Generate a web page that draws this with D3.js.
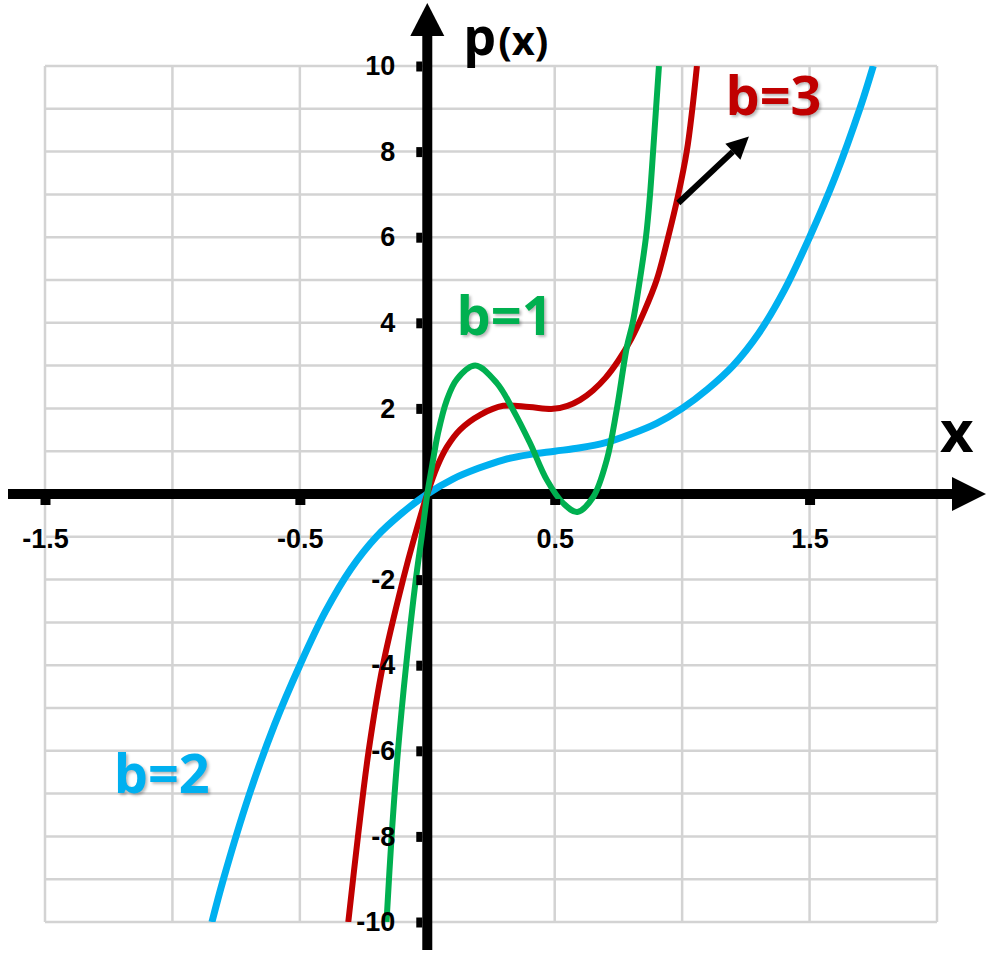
<!DOCTYPE html>
<html>
<head>
<meta charset="utf-8">
<script src="https://cdn.jsdelivr.net/npm/d3@7"></script>
<style>
  html, body { margin: 0; padding: 0; background: #fff; }
  svg { display: block; font-family: "Open Sans", "Liberation Sans", sans-serif; }
  .ylab text, .xlab text { font-size: 27px; font-weight: 700; fill: #000; }
  .curve-label { font-size: 54px; font-weight: 700; text-shadow: 2px 2px 3px rgba(0,0,0,0.28); }
</style>
</head>
<body>
<svg id="chart" width="1000" height="961"></svg>
<script>
// readings, [x, p(x)]
const curveB1 = [
  [-0.16, -10], [-0.14, -8], [-0.115, -6], [-0.083, -4], [-0.045, -2], [-0.022, -1],
  [0, 0], [0.018, 0.63], [0.042, 1.42], [0.077, 2.2], [0.116, 2.68], [0.188, 3.0],
  [0.273, 2.59], [0.337, 1.96], [0.403, 1.19], [0.469, 0.33], [0.534, -0.22],
  [0.589, -0.42], [0.651, -0.07], [0.704, 0.79], [0.743, 1.96], [0.783, 3.43],
  [0.806, 4], [0.834, 5], [0.858, 6], [0.874, 7], [0.886, 8], [0.909, 10]
];
const curveB3 = [
  [-0.31, -10], [-0.272, -8], [-0.23, -6], [-0.174, -4], [-0.095, -2],
  [-0.05, -1], [0, 0], [0.038, 0.63], [0.077, 1.1], [0.128, 1.5], [0.208, 1.85],
  [0.298, 2.06], [0.4, 2.03], [0.494, 1.99], [0.55, 2.06], [0.6, 2.2], [0.65, 2.42],
  [0.7, 2.72], [0.75, 3.12], [0.8, 3.62], [0.85, 4.25], [0.9, 5], [0.945, 6],
  [0.985, 7], [1.018, 8], [1.04, 9], [1.058, 10]
];
const curveB2 = [
  [-0.845, -10], [-0.8, -9.0], [-0.7, -7.05], [-0.6, -5.4], [-0.5, -4.0], [-0.4, -2.75],
  [-0.3, -1.75], [-0.2, -1.0], [-0.1, -0.45], [0, 0], [0.1, 0.35], [0.2, 0.6],
  [0.3, 0.8], [0.4, 0.92], [0.5, 1.0], [0.6, 1.08], [0.7, 1.2], [0.8, 1.4],
  [0.9, 1.65], [1.0, 2.0], [1.1, 2.45], [1.2, 3.0], [1.3, 3.75], [1.4, 4.75],
  [1.5, 6.0], [1.6, 7.4], [1.7, 9.05], [1.75, 10]
];

const xTickVals = [-1.5, -0.5, 0.5, 1.5];
const yTickVals = [-10, -8, -6, -4, -2, 2, 4, 6, 8, 10];

const series = [
  { name: "b=2", pts: curveB2, color: "#00b0f0", width: 7, label: [-1.23, -6.99] },
  { name: "b=3", pts: curveB3, color: "#c00000", width: 6, label: [1.17, 8.86] },
  { name: "b=1", pts: curveB1, color: "#00b050", width: 6, label: [0.115, 3.71] }
];

const svg = d3.select("#chart");

const x = d3.scaleLinear().domain([-1.5, 2]).range([45, 937]);
const y = d3.scaleLinear().domain([-10, 10]).range([922, 66]);

// grid
const grid = svg.append("g").attr("stroke", "#d3d3d3").attr("stroke-width", 2.5);
grid.selectAll("line.v").data(d3.range(-1.5, 2.01, 0.5)).join("line")
  .attr("class", "v")
  .attr("x1", d => x(d)).attr("x2", d => x(d))
  .attr("y1", y(10)).attr("y2", y(-10));
grid.selectAll("line.h").data(d3.range(-10, 10.01, 1)).join("line")
  .attr("class", "h")
  .attr("x1", x(-1.5)).attr("x2", x(2))
  .attr("y1", d => y(d)).attr("y2", d => y(d));

// axis lines with arrow heads
const x0 = x(0), y0 = y(0);
const axes = svg.append("g");
axes.append("line").attr("x1", 8).attr("x2", 958).attr("y1", y0).attr("y2", y0)
  .attr("stroke", "#000").attr("stroke-width", 10);
axes.append("path").attr("d", `M952,${y0 - 17} L986,${y0} L952,${y0 + 17} Z`).attr("fill", "#000");
axes.append("line").attr("x1", x0).attr("x2", x0).attr("y1", 30).attr("y2", 950)
  .attr("stroke", "#000").attr("stroke-width", 10);
axes.append("path").attr("d", `M${x0 - 17},36 L${x0},3 L${x0 + 17},36 Z`).attr("fill", "#000");

// curves
svg.append("clipPath").attr("id", "plot").append("rect")
  .attr("x", x(-1.5)).attr("y", y(10)).attr("width", x(2) - x(-1.5)).attr("height", y(-10) - y(10));

const line = d3.line()
  .x(d => x(d[0])).y(d => y(d[1]))
  .curve(d3.curveCatmullRom.alpha(0.5));

svg.append("g").attr("clip-path", "url(#plot)")
  .selectAll("path").data(series).join("path")
  .attr("d", d => line(d.pts))
  .attr("fill", "none")
  .attr("stroke", d => d.color)
  .attr("stroke-width", d => d.width)
  .attr("stroke-linejoin", "round");

// tick marks + labels via d3 axes
const yAxis = d3.axisLeft(y).tickValues(yTickVals).tickSize(6).tickPadding(21).tickFormat(d => String(d));
const yg = svg.append("g").attr("class", "ylab").attr("transform", `translate(${x0 - 5},0)`).call(yAxis);
yg.select(".domain").remove();
yg.selectAll(".tick line").attr("stroke", "#000").attr("stroke-width", 10);
yg.selectAll(".tick text").attr("font-family", null).attr("font-size", null);

const xAxis = d3.axisBottom(x).tickValues(xTickVals).tickSize(6).tickPadding(24).tickFormat(d => String(d));
const xg = svg.append("g").attr("class", "xlab").attr("transform", `translate(0,${y0 + 5})`).call(xAxis);
xg.select(".domain").remove();
xg.selectAll(".tick line").attr("stroke", "#000").attr("stroke-width", 10);
xg.selectAll(".tick text").attr("font-family", null).attr("font-size", null);

// axis titles
const pt = svg.append("text").attr("x", x0 + 36).attr("y", 55).attr("font-weight", 700);
pt.append("tspan").attr("font-size", 52).text("p");
pt.append("tspan").attr("font-size", 40).attr("dx", 2).text("(x)");
svg.append("text").attr("x", 940).attr("y", 452)
  .attr("font-size", 58).attr("font-weight", 700).text("x");

// curve labels
svg.selectAll("text.curve-label").data(series).join("text")
  .attr("class", "curve-label")
  .attr("x", d => x(d.label[0])).attr("y", d => y(d.label[1]))
  .attr("fill", d => d.color)
  .text(d => d.name);

// arrow pointing at b=3
const arrowFrom = [0.985, 6.8], arrowTo = [1.262, 8.35];
const ax1 = x(arrowFrom[0]), ay1 = y(arrowFrom[1]), ax2 = x(arrowTo[0]), ay2 = y(arrowTo[1]);
const ang = Math.atan2(ay2 - ay1, ax2 - ax1);
const headLen = 22, headW = 11;
const bx = ax2 - headLen * Math.cos(ang), by = ay2 - headLen * Math.sin(ang);
svg.append("line").attr("x1", ax1).attr("y1", ay1).attr("x2", bx).attr("y2", by)
  .attr("stroke", "#000").attr("stroke-width", 6);
svg.append("path")
  .attr("d", `M${ax2},${ay2} L${bx - headW * Math.sin(ang)},${by + headW * Math.cos(ang)} L${bx + headW * Math.sin(ang)},${by - headW * Math.cos(ang)} Z`)
  .attr("fill", "#000");
</script>
</body>
</html>
